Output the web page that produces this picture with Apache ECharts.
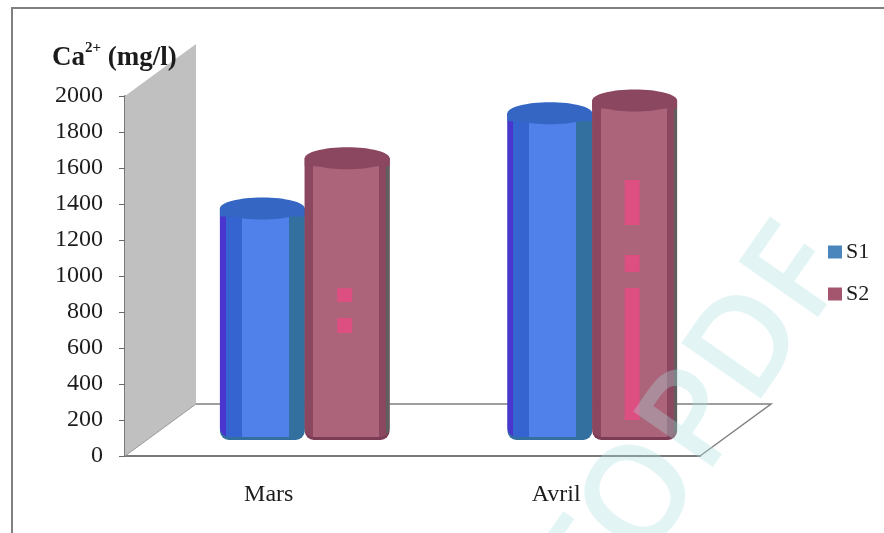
<!DOCTYPE html>
<html>
<head>
<meta charset="utf-8">
<title>Ca2+ (mg/l)</title>
<style>html,body{margin:0;padding:0;background:#fff}#chart{width:884px;height:533px}</style>
<script src="https://cdn.jsdelivr.net/npm/echarts@6/dist/echarts.min.js"></script>
</head>
<body>
<div id="chart"></div>
<script>
// Calcium concentration per month and station
const months = ['Mars', 'Avril'];
const seriesNames = ['S1', 'S2'];
const s1Values = [1230, 1760];
const s2Values = [1510, 1830];
const axisMax = 2000;
const axisStep = 200;
// Lit patches on the S2 cylinders: [month index, from value, to value]
const s2Sheen = [[0, 788, 711], [0, 622, 539], [1, 1389, 1139], [1, 972, 878], [1, 789, 56]];

// Oblique projection of the floor: how far the back wall is shifted from the front axis
const DEPTH_X = 71;
const DEPTH_Y = 52;
const SERIF = '"Liberation Serif", "Times New Roman", serif';

function hardStops(stops) {
  const out = [];
  stops.forEach(([from, to, color]) => {
    out.push({ offset: from, color }, { offset: to, color });
  });
  return { type: 'linear', x: 0, y: 0, x2: 1, y2: 0, colorStops: out };
}
const blueSide = hardStops([[0, 0.07, '#4a35cf'], [0.07, 0.26, '#3563d0'], [0.26, 0.81, '#5080ea'], [0.81, 1, '#33709f']]);
const redSide = hardStops([[0, 0.1, '#8b4660'], [0.1, 0.88, '#ab6479'], [0.88, 0.96, '#8b4660'], [0.96, 1, '#5f5f5f']]);

function cylinder(side, topColor, rimColor, sign, sheen) {
  return function (params, api) {
    const cat = api.value(0);
    const base = api.coord([cat, 0]);
    const head = api.coord([cat, api.value(1)]);
    const band = api.size([1, 0])[0];
    const w = band * 0.295;
    const cx = base[0] + DEPTH_X / 2 + 0.5 + sign * w / 2;
    const by = base[1] - DEPTH_Y / 2;
    const ty = head[1] - DEPTH_Y / 2;
    const x = cx - w / 2;
    const children = [
      { type: 'rect', shape: { x, y: ty, width: w, height: by - ty + 10, r: [0, 0, 9, 9] }, style: { fill: rimColor } },
      { type: 'rect', shape: { x, y: ty, width: w, height: by - ty + 7, r: [0, 0, 9, 9] }, style: { fill: side } }
    ];
    if (sheen) {
      s2Sheen.filter(s => s[0] === cat).forEach(s => {
        const a = api.coord([cat, s[1]])[1] - DEPTH_Y / 2;
        const b = api.coord([cat, s[2]])[1] - DEPTH_Y / 2;
        children.push({ type: 'rect', shape: { x: cx - 10, y: a, width: 15, height: b - a }, style: { fill: '#dc4f80' } });
      });
    }
    // Cap: the dome of the top ellipse continued by a flat shaded band
    children.push({ type: 'ellipse', shape: { cx, cy: ty, rx: w / 2, ry: 11 }, style: { fill: topColor } });
    children.push({ type: 'rect', shape: { x, y: ty, width: w, height: 8 }, style: { fill: topColor } });
    return { type: 'group', children };
  };
}

// Grey side wall and the floor outline, built from the plot rectangle
function room(params, api) {
  const c = params.coordSys;
  const left = c.x, right = c.x + c.width, top = c.y, bottom = c.y + c.height;
  const line = { stroke: '#808080', lineWidth: 1.5, fill: null };
  return {
    type: 'group',
    children: [
      { type: 'polygon', shape: { points: [[left, bottom], [left, top], [left + DEPTH_X, top - DEPTH_Y], [left + DEPTH_X, bottom - DEPTH_Y]] }, style: { fill: '#c0c0c0' } },
      { type: 'polyline', shape: { points: [[left + DEPTH_X, bottom - DEPTH_Y], [right + DEPTH_X, bottom - DEPTH_Y], [right, bottom]] }, style: line },
      { type: 'line', shape: { x1: left, y1: bottom, x2: left + DEPTH_X, y2: bottom - DEPTH_Y }, style: { stroke: '#9a9a9a', lineWidth: 1 } }
    ]
  };
}

function toPairs(values) {
  return values.map((v, i) => [i, v]);
}

const chart = echarts.init(document.getElementById('chart'), null, { renderer: 'canvas' });
chart.setOption({
  animation: false,
  backgroundColor: '#ffffff',
  title: {
    left: 52,
    top: 41,
    padding: 0,
    text: '{a|Ca}{s|2+}{a| (mg/l)}',
    textStyle: {
      rich: {
        a: { fontFamily: SERIF, fontWeight: 'bold', fontSize: 27, color: '#1c1c1c', lineHeight: 34 },
        s: { fontFamily: SERIF, fontWeight: 'bold', fontSize: 15, color: '#1c1c1c', lineHeight: 34, verticalAlign: 'top' }
      }
    }
  },
  legend: {
    orient: 'vertical',
    left: 828,
    top: 241,
    padding: 0,
    itemWidth: 14,
    itemHeight: 13,
    itemGap: 20,
    icon: 'rect',
    data: seriesNames,
    textStyle: { fontFamily: SERIF, fontSize: 22, color: '#1c1c1c', padding: [0, 0, 0, -1] }
  },
  grid: { left: 125, right: 184, top: 96, bottom: 77 },
  xAxis: {
    type: 'category',
    data: months,
    axisLine: { lineStyle: { color: '#7a7a7a', width: 2 } },
    axisTick: { length: 6, lineStyle: { color: '#9a9a9a' } },
    axisLabel: { margin: 27, fontFamily: SERIF, fontSize: 24, color: '#1c1c1c' }
  },
  yAxis: {
    type: 'value',
    min: 0,
    max: axisMax,
    interval: axisStep,
    splitLine: { show: false },
    axisLine: { show: true, lineStyle: { color: '#7a7a7a', width: 2 } },
    axisTick: { show: true, length: 6, lineStyle: { color: '#6a6a6a' } },
    axisLabel: { margin: 22, padding: [4, 0, 0, 0], fontFamily: SERIF, fontSize: 24, color: '#1c1c1c', formatter: v => String(v) }
  },
  series: [
    { type: 'custom', name: 'room', silent: true, renderItem: room, data: [[0, 0]], z: 1 },
    { type: 'custom', name: seriesNames[0], renderItem: cylinder(blueSide, '#3566c4', '#33709f', -1, false), data: toPairs(s1Values), itemStyle: { color: '#4a86bb' }, z: 2 },
    { type: 'custom', name: seriesNames[1], renderItem: cylinder(redSide, '#8b4660', '#7d3c55', 1, true), data: toPairs(s2Values), itemStyle: { color: '#a5566f' }, z: 3 }
  ],
  graphic: [
    // Chart area frame running off the top and right of the page
    { type: 'rect', silent: true, z: 50, shape: { x: 12, y: 8, width: 900, height: 560 }, style: { fill: 'none', stroke: '#808080', lineWidth: 2 } },
    // Diagonal publisher stamp laid over the figure
    { type: 'text', silent: true, z: 100, x: 624, y: 645, rotation: 55 * Math.PI / 180,
      style: { text: 'TOPDF', fontFamily: '"Open Sans", "Liberation Sans", sans-serif', fontWeight: 600, fontSize: 136, fill: 'rgba(170,222,226,0.33)',
               textAlign: 'left', textVerticalAlign: 'bottom' } }
  ]
});
</script>
</body>
</html>
